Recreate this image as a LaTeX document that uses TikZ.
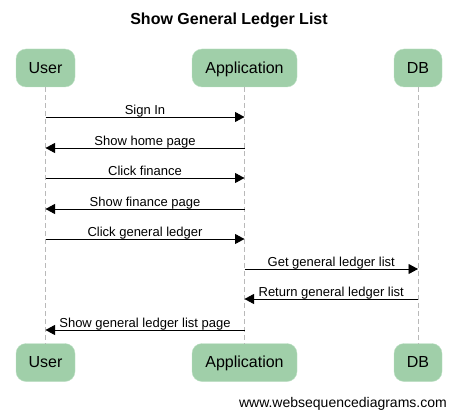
\documentclass[tikz,border=0pt]{standalone}
\usepackage{fontspec}
\setmainfont{Liberation Sans}
\usetikzlibrary{arrows.meta}
\definecolor{actorgreen}{RGB}{160,207,169}
\definecolor{actorline}{RGB}{190,224,197}
\tikzset{
 actor/.style={draw=actorline,fill=actorgreen,rounded corners=10pt,minimum height=38pt,
  inner sep=0pt,text height=12pt,text depth=1.4pt,font=\fontsize{16}{18}\selectfont,text=black},
 lifeline/.style={draw=gray!55,line width=0.8pt,dash pattern=on 5pt off 3pt},
 msg/.style={line width=0.9pt,-{Triangle[length=9.5pt,width=10pt]}},
 msglabel/.style={anchor=base,yshift=3pt,inner sep=0pt,font=\fontsize{13}{15}\selectfont}
}
\begin{document}
\begin{tikzpicture}[x=1pt,y=-1pt]
 \useasboundingbox (0,0) rectangle (457,417);
 % title
 \node[anchor=base,font=\bfseries\fontsize{16}{18}\selectfont] (title) at (229,25) {Show General Ledger List};
 % participants, top and bottom
 \node[actor,minimum width=59pt] (user) at (45.5,68) {User};
 \node[actor,minimum width=105pt] (app) at (244.5,68) {Application};
 \node[actor,minimum width=48pt] (db) at (418,68) {DB};
 \node[actor,minimum width=59pt] (userB) at (45.5,362.5) {User};
 \node[actor,minimum width=105pt] (appB) at (244.5,362.5) {Application};
 \node[actor,minimum width=48pt] (dbB) at (418,362.5) {DB};
 % lifelines
 \draw[lifeline] (user) -- (userB);
 \draw[lifeline] (app) -- (appB);
 \draw[lifeline] (db) -- (dbB);
 % message rows
 \coordinate (m1) at (0,117);
 \coordinate (m2) at (0,148);
 \coordinate (m3) at (0,178);
 \coordinate (m4) at (0,209);
 \coordinate (m5) at (0,239);
 \coordinate (m6) at (0,269);
 \coordinate (m7) at (0,299);
 \coordinate (m8) at (0,330);
 % messages
 \draw[msg] (user |- m1) -- node[msglabel]{Sign In} (app |- m1);
 \draw[msg] (app |- m2) -- node[msglabel]{Show home page} (user |- m2);
 \draw[msg] (user |- m3) -- node[msglabel]{Click finance} (app |- m3);
 \draw[msg] (app |- m4) -- node[msglabel]{Show finance page} (user |- m4);
 \draw[msg] (user |- m5) -- node[msglabel]{Click general ledger} (app |- m5);
 \draw[msg] (app |- m6) -- node[msglabel]{Get general ledger list} (db |- m6);
 \draw[msg] (db |- m7) -- node[msglabel]{Return general ledger list} (app |- m7);
 \draw[msg] (app |- m8) -- node[msglabel]{Show general ledger list page} (user |- m8);
 % footer
 \node[anchor=base east,inner sep=0pt,font=\fontsize{14}{16}\selectfont] (footer) at (447,407) {www.websequencediagrams.com};
\end{tikzpicture}
\end{document}
